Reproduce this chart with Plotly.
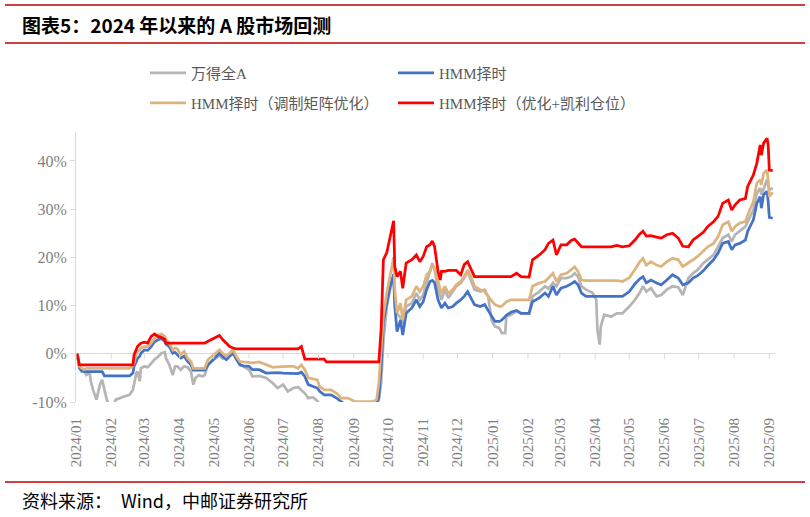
import pandas as pd
import plotly.graph_objects as go

# ---------------- data ----------------
start_date = "2024-01-01"
# calendar day offsets from 2024-01-01
days = [1, 3, 5, 7, 9, 12, 13, 15, 18, 21, 23, 25, 27, 31, 35, 43, 47, 50, 51, 53,
        54, 56, 57, 60, 63, 66, 69, 72, 75, 78, 79, 82, 85, 87, 89, 92, 95, 98, 101, 103,
        105, 108, 111, 113, 116, 119, 123, 126, 129, 132, 135, 138, 141, 144, 147, 152, 155, 161, 167, 173,
        177, 182, 186, 191, 195, 198, 201, 204, 208, 212, 214, 218, 220, 224, 229, 233, 239, 245, 249, 261,
        264, 266, 268, 270, 273, 276, 279, 280, 282, 285, 287, 290, 295, 299, 302, 305, 308, 311, 313, 315,
        318, 320, 321, 324, 327, 331, 334, 338, 341, 344, 347, 350, 355, 359, 362, 365, 368, 372, 374, 377,
        378, 382, 387, 391, 398, 401, 407, 412, 415, 419, 422, 426, 431, 435, 438, 441, 444, 448, 454, 457,
        458, 460, 461, 464, 470, 475, 480, 486, 491, 495, 498, 501, 505, 510, 514, 519, 524, 529, 533, 538,
        542, 546, 551, 555, 560, 564, 568, 573, 576, 579, 583, 588, 590, 595, 598, 601, 602, 604, 607, 608,
        609, 612]

wind_a = [0, -2.6, -3.7, -3.4, -4.4, -3.9, -5.7, -7.5, -9.5, -6.4, -5.4, -7.8, -9.5, -12.0, -9.5, -8.8, -8.5, -7.5, -6.1, -4.0,
          -3.7, -5.7, -3.0, -2.6, -2.8, -1.9, -1.2, -0.6, 0.1, 0.3, -0.9, -2.3, -4.4, -2.6, -2.6, -3.3, -2.6, -2.8, -3.7, -6.4,
          -5.0, -4.4, -4.7, -4.4, -2.3, -1.6, -0.9, -0.4, -1.0, -0.6, 0.1, 0.8, -0.9, -2.3, -2.6, -3.3, -4.7, -4.6, -5.0, -6.1,
          -7.1, -6.4, -7.8, -7.1, -6.9, -7.5, -8.2, -9.2, -9.0, -9.8, -10.5, -10.3, -11.0, -11.0, -11.5, -12.0, -12.0, -12.0, -12.0, -12.0,
          -11.0, -9.5, -6.0, 2.5, 9.8, 13.5, 16.3, 10.5, 8.4, 7.5, 6.3, 9.8, 10.5, 12.6, 11.2, 12.2, 14.7, 17.1, 18.8, 17.4,
          13.3, 12.0, 11.2, 13.3, 11.6, 12.9, 14.0, 14.7, 15.7, 17.1, 15.3, 13.3, 12.9, 13.3, 11.9, 7.0, 5.7, 5.3, 4.3, 4.3,
          7.7, 8.1, 8.8, 8.4, 8.4, 11.9, 12.9, 14.0, 13.5, 14.7, 14.0, 15.7, 15.7, 16.0, 16.7, 16.0, 14.0, 13.3, 12.6, 11.2,
          5.0, 1.9, 5.7, 8.1, 7.7, 8.4, 8.4, 9.8, 11.2, 12.6, 14.0, 12.9, 13.6, 11.9, 12.2, 13.3, 14.0, 13.8, 12.2, 15.7,
          16.7, 17.4, 18.8, 19.5, 20.5, 22.2, 24.0, 24.7, 23.3, 24.7, 25.4, 26.4, 27.4, 29.8, 33.3, 34.4, 33.0, 34.4, 36.1, 35.0,
          34.0, 34.4]

hmm = [0, -3.0, -3.5, -3.7, -3.7, -3.7, -3.7, -3.7, -3.7, -3.7, -3.7, -4.6, -4.6, -4.6, -4.6, -4.6, -4.6, -4.0, -2.6, -1.6,
       -1.0, -0.5, 0.1, 0.8, 0.7, 1.5, 2.5, 2.9, 3.2, 2.5, 2.0, 1.5, 0.1, 0.3, -0.2, -0.9, -0.5, -1.6, -2.3, -3.4,
       -3.4, -3.4, -3.4, -3.4, -2.3, -1.6, -0.6, 0.1, -0.6, -1.2, -0.5, 0.1, -1.2, -2.3, -2.5, -2.6, -3.3, -3.3, -4.0, -3.9,
       -3.9, -4.0, -4.0, -4.0, -4.1, -3.8, -4.7, -6.4, -6.8, -7.1, -7.8, -8.5, -8.5, -8.5, -9.2, -9.9, -11.0, -11.0, -11.0, -11.0,
       -10.5, -9.0, -3.3, 6.5, 10.5, 14.0, 16.5, 10.0, 4.6, 7.0, 3.9, 8.4, 9.5, 11.2, 9.8, 10.8, 13.3, 15.0, 15.2, 14.7,
       11.2, 10.0, 9.5, 10.5, 9.5, 9.8, 10.5, 11.2, 11.9, 12.9, 11.6, 10.2, 9.8, 10.2, 9.0, 7.7, 6.7, 6.7, 7.0, 7.7,
       8.0, 8.6, 9.0, 8.4, 8.4, 10.8, 11.6, 12.6, 11.9, 14.0, 12.2, 13.6, 14.0, 14.5, 15.0, 14.3, 12.6, 11.9, 11.9, 11.9,
       11.9, 11.9, 11.9, 11.9, 11.9, 11.9, 11.9, 12.9, 14.5, 15.5, 16.0, 14.7, 15.3, 14.7, 14.3, 15.3, 16.4, 15.7, 14.3, 14.7,
       15.7, 16.2, 17.2, 18.3, 19.5, 20.9, 22.9, 23.3, 21.6, 22.6, 22.9, 23.6, 25.4, 27.8, 31.2, 32.6, 30.2, 33.0, 33.7, 31.6,
       28.3, 28.1]

hmm_matrix = [0, -2.6, -3.0, -3.3, -3.0, -3.0, -3.0, -3.0, -3.0, -3.0, -3.0, -3.0, -3.0, -3.0, -3.0, -3.0, -3.0, -2.5, -1.9, 0.0,
              0.5, 0.8, 1.2, 1.5, 1.5, 2.2, 3.2, 3.9, 4.1, 3.6, 3.0, 2.2, 0.8, 1.2, 1.0, -0.2, 0.5, -0.9, -1.6, -3.0,
              -3.0, -3.0, -3.0, -3.0, -1.2, -0.6, 0.1, 0.8, 0.1, -0.5, 0.1, 0.8, -0.6, -1.6, -1.7, -1.9, -1.9, -1.7, -2.3, -2.8,
              -2.7, -2.6, -2.6, -2.6, -3.0, -2.3, -3.3, -5.0, -5.2, -5.4, -6.8, -7.5, -7.5, -7.5, -8.2, -9.2, -9.2, -9.9, -9.9, -9.9,
              -9.5, -6.1, 0.8, 8.0, 12.6, 16.5, 20.0, 13.3, 8.4, 10.5, 7.0, 11.2, 11.9, 14.0, 12.9, 14.0, 16.4, 17.1, 18.4, 17.8,
              14.7, 13.3, 12.6, 14.0, 12.6, 13.3, 14.3, 15.0, 16.0, 17.4, 16.0, 14.0, 13.3, 12.9, 11.9, 11.0, 10.2, 9.8, 9.9, 10.5,
              10.8, 11.2, 11.2, 11.2, 11.2, 14.0, 14.7, 15.0, 15.7, 16.7, 15.0, 16.4, 16.7, 17.4, 18.0, 17.1, 15.3, 15.2, 15.2, 15.2,
              15.2, 15.2, 15.2, 15.2, 15.2, 15.2, 15.0, 15.8, 17.5, 19.0, 19.8, 18.4, 19.1, 18.4, 18.1, 19.1, 19.8, 19.5, 18.1, 18.8,
              19.5, 20.2, 21.2, 22.2, 22.9, 24.3, 26.7, 27.4, 25.4, 26.4, 27.1, 27.4, 28.8, 31.6, 35.4, 36.1, 35.0, 37.4, 38.1, 36.1,
              32.6, 33.5]

hmm_kelly = [0, -2.3, -2.3, -2.3, -2.3, -2.3, -2.3, -2.3, -2.3, -2.3, -2.3, -2.3, -2.3, -2.3, -2.3, -2.3, -2.3, -2.3, -0.2, 0.8,
             1.5, 2.0, 2.2, 2.4, 2.2, 3.6, 4.1, 3.6, 3.4, 3.0, 2.2, 2.2, 2.2, 2.2, 2.2, 2.2, 2.2, 2.2, 2.2, 2.2,
             2.2, 2.2, 2.2, 2.2, 2.6, 3.0, 3.4, 3.8, 2.9, 2.2, 1.5, 1.2, 1.0, 1.0, 1.0, 1.0, 1.0, 1.0, 1.0, 1.0,
             1.0, 1.0, 1.0, 1.0, 1.0, 1.5, -1.1, -1.1, -1.1, -1.1, -1.1, -1.1, -1.7, -1.7, -1.7, -1.7, -1.7, -1.7, -1.7, -1.7,
             -1.7, -1.7, 5.0, 19.5, 21.0, 24.5, 27.6, 18.1, 16.0, 17.1, 13.6, 18.8, 19.5, 20.5, 19.1, 20.2, 22.2, 22.6, 23.4, 22.2,
             17.1, 15.3, 17.1, 17.1, 17.3, 17.3, 17.3, 16.4, 18.5, 19.1, 17.5, 16.0, 16.0, 16.0, 16.0, 16.0, 16.0, 16.0, 16.0, 16.0,
             16.0, 16.0, 16.7, 16.0, 15.9, 19.5, 20.5, 21.6, 22.9, 23.6, 20.5, 22.6, 22.6, 23.5, 23.8, 23.0, 22.2, 22.2, 22.2, 22.2,
             22.2, 22.2, 22.2, 22.2, 22.2, 22.5, 22.2, 22.4, 23.6, 24.8, 25.4, 24.4, 24.5, 24.2, 24.0, 24.7, 25.0, 24.0, 22.3, 22.2,
             23.6, 24.3, 25.2, 26.4, 27.4, 28.5, 31.2, 31.9, 29.8, 30.9, 31.9, 32.2, 34.7, 37.1, 39.5, 43.3, 41.2, 43.7, 44.7, 43.3,
             38.1, 38.0]

series_names = ["万得全A", "HMM择时", "HMM择时（调制矩阵优化）", "HMM择时（优化+凯利仓位）"]
series_values = [wind_a, hmm, hmm_matrix, hmm_kelly]
series_colors = ["#b5b5b5", "#4472c4", "#ddb47e", "#ff0000"]

month_ticks = pd.date_range("2024-01-01", "2025-09-01", freq="MS")
y_ticks = [-10, 0, 10, 20, 30, 40]
y_tick_labels = ["-10%", "0%", "10%", "20%", "30%", "40%"]

title_text = "图表5：2024 年以来的 A 股市场回测"
source_text = "资料来源：\u3000Wind，中邮证券研究所"

# ---------------- figure ----------------
W, H = 810, 517
ML, MR, MT, MB = 76, 35, 132, 115
PW, PH = W - ML - MR, H - MT - MB


def px_x(p):
    return (p - ML) / PW


def px_y(p):
    return (H - MB - p) / PH


dates = pd.Timestamp(start_date) + pd.to_timedelta(days, unit="D")

fig = go.Figure()
for i, (name, vals, col) in enumerate(zip(series_names, series_values, series_colors)):
    fig.add_trace(go.Scatter(
        x=dates, y=vals, mode="lines", name=name,
        line=dict(color=col, width=2.75),
        legend="legend" if i < 2 else "legend2",
        hoverinfo="skip",
    ))

serif = "Liberation Serif, Noto Sans CJK SC, serif"
leg_common = dict(orientation="h", xanchor="left", yanchor="middle",
                  entrywidth=197, entrywidthmode="pixels",
                  font=dict(family=serif, size=15, color="#595959"),
                  bgcolor="rgba(0,0,0,0)", itemwidth=36)

fig.update_layout(
    width=W, height=H,
    margin=dict(l=ML, r=MR, t=MT, b=MB, autoexpand=False),
    paper_bgcolor="white", plot_bgcolor="white",
    showlegend=True,
    legend=dict(x=px_x(145), y=px_y(73), **leg_common),
    legend2=dict(x=px_x(145), y=px_y(103), **leg_common),
    xaxis=dict(
        type="date",
        range=["2024-01-01", "2025-09-06"],
        tickvals=month_ticks,
        tickformat="%Y/%m",
        tickangle=-90,
        ticks="outside", ticklen=9, tickcolor="rgba(0,0,0,0)",
        showline=False, showgrid=False, zeroline=False,
        automargin=False,
        tickfont=dict(family=serif, size=15, color="#7f7f7f"),
    ),
    yaxis=dict(
        range=[-10, 46],
        tickmode="array",
        tickvals=y_ticks,
        ticktext=y_tick_labels,
        ticks="outside", ticklen=5, tickcolor="#d9d9d9",
        showline=True, linecolor="#d9d9d9", linewidth=1,
        showgrid=False,
        zeroline=True, zerolinecolor="#d9d9d9", zerolinewidth=1,
        automargin=False,
        tickfont=dict(family=serif, size=16, color="#7f7f7f"),
    ),
)

# small tick marks on the 0% line
for d in month_ticks:
    fig.add_shape(type="line", xref="x", yref="y", x0=d, x1=d, y0=0, y1=-1.05,
                  line=dict(color="#d9d9d9", width=1))

# red rules
for py in (5, 43, 482):
    fig.add_shape(type="line", xref="paper", yref="paper",
                  x0=px_x(5), x1=px_x(805), y0=px_y(py), y1=px_y(py),
                  line=dict(color="#c00000", width=1.3))

fig.add_annotation(text="<b>" + title_text + "</b>", xref="paper", yref="paper",
                   x=px_x(20), y=px_y(24), xanchor="left", yanchor="middle", showarrow=False,
                   font=dict(family="Noto Sans CJK SC", size=19, color="#000000"))
fig.add_annotation(text=source_text, xref="paper", yref="paper",
                   x=px_x(20), y=px_y(500), xanchor="left", yanchor="middle", showarrow=False,
                   font=dict(family="Noto Sans CJK SC", size=18, color="#000000"))

fig.write_html("out.html",
               config={"displayModeBar": False},
               post_script="document.body.style.margin='0';document.body.style.overflow='hidden';")
